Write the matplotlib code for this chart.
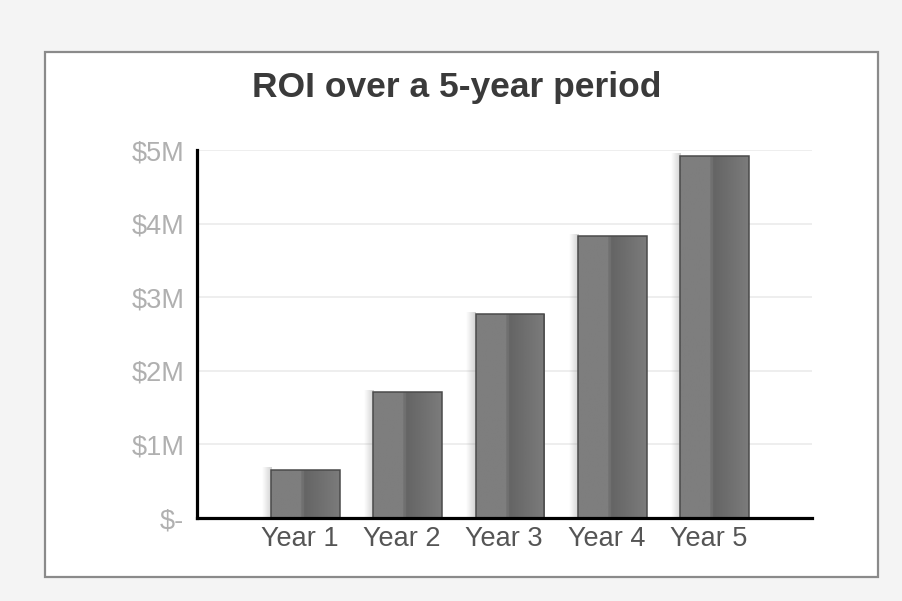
import numpy as np
import matplotlib.pyplot as plt
import matplotlib.transforms as mtransforms
from matplotlib.patches import Rectangle
from matplotlib.colors import LinearSegmentedColormap

plt.rcParams['font.family'] = ['Liberation Sans', 'DejaVu Sans']

# ROI per year, in $M
years = ['Year 1', 'Year 2', 'Year 3', 'Year 4', 'Year 5']
roi = [0.65, 1.71, 2.77, 3.83, 4.92]
ytick_vals = [0, 1, 2, 3, 4, 5]
ytick_labels = ['$-', '$1M', '$2M', '$3M', '$4M', '$5M']

fig = plt.figure(figsize=(9.03, 6.01), dpi=100)
fig.patch.set_facecolor('#f4f4f4')

# white panel with grey frame, kept behind the axes
panel = Rectangle((0.0498, 0.0399), 0.9225, 0.8735, transform=fig.transFigure,
                  facecolor='white', edgecolor='#8a8a8a', linewidth=1.6, zorder=-5)
fig.patches.append(panel)

ax = fig.add_axes([0.218, 0.138, 0.681, 0.612])
ax.set_facecolor('none')
ax.set_zorder(2)

x = np.arange(len(years))
width = 0.67

# horizontal shading of a bar: flat left half, dark band in the middle fading right
t = np.linspace(0, 1, 200)
shade = np.where(t < 0.46, 0.495, 0.39 + (t - 0.46) / 0.54 * 0.095)
shade = np.where((t >= 0.44) & (t < 0.48), 0.44, shade)
bar_cmap = LinearSegmentedColormap.from_list('g', ['black', 'white'])
# soft drop shadow on the left of each bar
shadow = np.linspace(0, 1, 50)[None, :]
shadow_cmap = LinearSegmentedColormap.from_list('s', [(0.55, 0.55, 0.55, 0.0), (0.55, 0.55, 0.55, 0.4)])

for xi, v in zip(x, roi):
    left = xi - width / 2
    ax.imshow(shadow, extent=[left - 0.09, left, 0, v + 0.03], aspect='auto',
              cmap=shadow_cmap, vmin=0, vmax=1, zorder=2.5, interpolation='bilinear')
    ax.imshow(shade[None, :], extent=[left, left + width, 0, v], aspect='auto',
              cmap=bar_cmap, vmin=0, vmax=1, zorder=3, interpolation='bilinear')

ax.bar(x, roi, width=width, facecolor='none', edgecolor='#4a4a4a', linewidth=1.1, zorder=4)

ax.set_xlim(-1.06, 4.95)
ax.set_ylim(0, 5)
ax.set_xticks(x)
ax.set_xticklabels(years, fontsize=19.5, color='#555555')
ax.set_yticks(ytick_vals)
ax.set_yticklabels(ytick_labels, fontsize=19.5, color='#b0b0b0')
ax.tick_params(length=0)
ax.tick_params(axis='y', pad=9)
ax.tick_params(axis='x', pad=6)

# category labels sit a little left of the bar centres
shift = mtransforms.ScaledTranslation(-6 / 100, 0, fig.dpi_scale_trans)
for lbl in ax.get_xticklabels():
    lbl.set_transform(lbl.get_transform() + shift)

ax.yaxis.grid(True, color='#ebebeb', linewidth=1.2, zorder=1)
ax.set_axisbelow(True)
for s in ['top', 'right']:
    ax.spines[s].set_visible(False)
for s in ['left', 'bottom']:
    ax.spines[s].set_color('black')
    ax.spines[s].set_linewidth(2.3)
    ax.spines[s].set_zorder(5)

fig.text(0.506, 1 - 88 / 601, 'ROI over a 5-year period', ha='center', va='center',
         fontsize=25.5, fontweight='bold', color='#3a3a3a', zorder=3)

fig.savefig('out.png', dpi=100, facecolor=fig.get_facecolor())
